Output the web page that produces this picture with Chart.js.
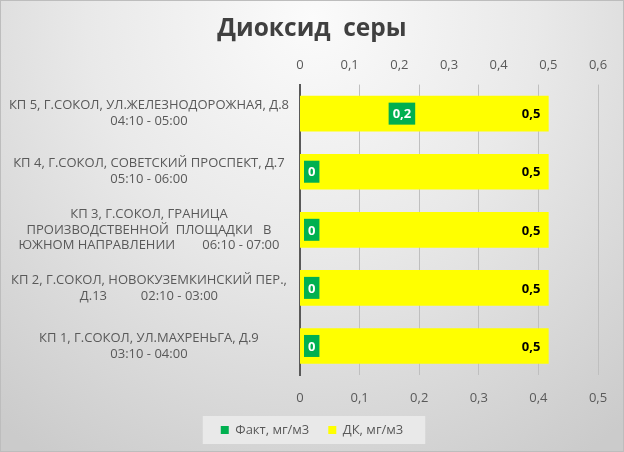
<!DOCTYPE html>
<html>
<head>
<meta charset="utf-8">
<script src="https://cdn.jsdelivr.net/npm/chart.js@4.4.1/dist/chart.umd.min.js"></script>
<style>
  html, body { margin: 0; padding: 0; }
  body { width: 624px; height: 452px; overflow: hidden; position: relative;
         background: radial-gradient(ellipse 80% 115% at 50% 4%, #fbfbfb 0%, #e9e9e9 45%, #cbcbcb 100%); }
  #frame { position: absolute; left: 0; top: 0; width: 622px; height: 450px; border: 1px solid #bdbdbd; pointer-events: none; }
  canvas { position: absolute; left: 0; top: 0; }
</style>
</head>
<body>
<canvas id="c" width="624" height="452"></canvas>
<div id="frame"></div>
<script>
// ---- data ----
const categories = [
  ["КП 5, Г.СОКОЛ, УЛ.ЖЕЛЕЗНОДОРОЖНАЯ, Д.8", "04:10 - 05:00"],
  ["КП 4, Г.СОКОЛ, СОВЕТСКИЙ ПРОСПЕКТ, Д.7", "05:10 - 06:00"],
  ["КП 3, Г.СОКОЛ, ГРАНИЦА", "ПРОИЗВОДСТВЕННОЙ  ПЛОЩАДКИ   В", "ЮЖНОМ НАПРАВЛЕНИИ        06:10 - 07:00"],
  ["КП 2, Г.СОКОЛ, НОВОКУЗЕМКИНСКИЙ ПЕР.,", "Д.13          02:10 - 03:00"],
  ["КП 1, Г.СОКОЛ, УЛ.МАХРЕНЬГА, Д.9", "03:10 - 04:00"]
];
const factValues = [0.2, 0, 0, 0, 0];
const dkValues = [0.5, 0.5, 0.5, 0.5, 0.5];
const seriesNames = ["Факт, мг/м3", "ДК, мг/м3"];
const bottomTickLabels = ["0", "0,1", "0,2", "0,3", "0,4", "0,5"];
const topTickLabels = ["0", "0,1", "0,2", "0,3", "0,4", "0,5", "0,6"];
const titleText = "Диоксид  серы";

const FONT = "'Open Sans', 'Noto Sans', sans-serif";
const TXT = '#595959';
const fmt = v => String(v).replace('.', ',');

const labelPlugin = {
  id: 'valueLabels',
  beforeDraw(chart) {
    const lg = chart.legend;
    if (!lg || !lg.legendHitBoxes || !lg.legendHitBoxes.length) return;
    const hb = lg.legendHitBoxes;
    const l = hb[0].left, r = hb[hb.length - 1].left + hb[hb.length - 1].width;
    const cy = hb[0].top + hb[0].height / 2;
    const ctx = chart.ctx;
    ctx.save();
    ctx.fillStyle = 'rgba(235,235,235,0.9)';
    ctx.fillRect(l - 18, cy - 14, (r - l) + 40, 28);
    ctx.restore();
  },
  afterDatasetsDraw(chart) {
    const ctx = chart.ctx;
    ctx.save();
    ctx.font = "bold 13px " + FONT;
    ctx.textBaseline = 'middle';
    const m0 = chart.getDatasetMeta(0);
    m0.data.forEach((el, i) => {
      const t = fmt(chart.data.datasets[0].data[i]);
      const w = ctx.measureText(t).width + 8, h = 22;
      const right = Math.max(el.x - 4, el.base + 4 + w);
      ctx.fillStyle = '#00B050';
      ctx.fillRect(right - w, el.y - h / 2, w, h);
      ctx.fillStyle = '#ffffff';
      ctx.textAlign = 'center';
      ctx.fillText(t, right - w / 2, el.y + 1);
    });
    const m1 = chart.getDatasetMeta(1);
    m1.data.forEach((el, i) => {
      const t = fmt(chart.data.datasets[1].data[i]);
      ctx.fillStyle = '#000000';
      ctx.textAlign = 'right';
      ctx.fillText(t, el.x - 8, el.y + 1);
    });
    ctx.restore();
  }
};

new Chart(document.getElementById('c'), {
  type: 'bar',
  data: {
    labels: categories,
    datasets: [
      { label: seriesNames[0], data: factValues, backgroundColor: '#00B050', xAxisID: 'x', yAxisID: 'y',
        order: 1, grouped: false, barThickness: 22 },
      { label: seriesNames[1], data: dkValues, backgroundColor: '#FFFF00', xAxisID: 'x2', yAxisID: 'y',
        order: 0, grouped: false, barThickness: 35 }
    ]
  },
  options: {
    indexAxis: 'y',
    responsive: false,
    animation: false,
    layout: { padding: { left: 0, right: 0, top: 0, bottom: 5.5 } },
    scales: {
      y: {
        type: 'category',
        grid: { display: false },
        border: { display: true, color: '#595959', width: 2 },
        ticks: { color: TXT, font: { family: FONT, size: 13, lineHeight: 1.23 }, crossAlign: 'center', padding: 3, autoSkip: false },
        afterFit(s) { s.width = 300; }
      },
      yR: {
        type: 'category', position: 'right',
        grid: { display: false, drawTicks: false },
        border: { display: false },
        ticks: { display: false },
        afterFit(s) { s.width = 26; }
      },
      x: {
        position: 'bottom', min: 0, max: 0.5,
        grid: { color: '#bfbfbf', drawTicks: false, lineWidth: 1 },
        border: { display: false },
        ticks: { stepSize: 0.1, color: TXT, font: { family: FONT, size: 13 }, padding: 15,
                 callback: (v, i) => bottomTickLabels[i] },
        afterFit(s) { s.height = 29.5; }
      },
      x2: {
        position: 'top', min: 0, max: 0.6,
        grid: { display: false, drawTicks: false },
        border: { display: false },
        ticks: { stepSize: 0.1, color: TXT, font: { family: FONT, size: 13 }, padding: 12,
                 callback: (v, i) => topTickLabels[i] },
        afterFit(s) { s.height = 41.2; }
      }
    },
    plugins: {
      title: { display: true, text: titleText, color: '#404040',
               font: { family: FONT, size: 24.5, weight: 'bold', lineHeight: 1.2 },
               padding: { top: 14, bottom: 0 } },
      legend: { position: 'bottom',
                labels: { boxWidth: 8, boxHeight: 8, padding: 19, color: TXT,
                          font: { family: FONT, size: 13 },
                          sort: (a, b) => a.datasetIndex - b.datasetIndex } },
      tooltip: { enabled: false }
    }
  },
  plugins: [labelPlugin]
});
</script>
</body>
</html>
